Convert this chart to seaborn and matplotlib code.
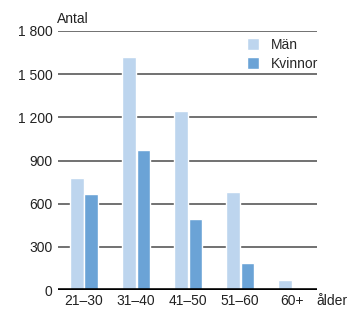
import seaborn as sns
import matplotlib.pyplot as plt
import pandas as pd

# data
aldrar = ['21–30', '31–40', '41–50', '51–60', '60+']
man = [775, 1620, 1245, 680, 72]
kvinnor = [670, 970, 490, 190, 14]
yticks = [0, 300, 600, 900, 1200, 1500, 1800]
ylabels = ['0', '300', '600', '900', '1 200', '1 500', '1 800']

df = pd.DataFrame({
    'ålder': aldrar * 2,
    'antal': man + kvinnor,
    'kön': ['Män'] * len(aldrar) + ['Kvinnor'] * len(aldrar),
})

sns.set_style('white')
plt.rcParams['font.family'] = ['Liberation Sans', 'DejaVu Sans']

fig = plt.figure(figsize=(3.48, 3.10), dpi=100)
ax = fig.add_axes([58 / 348, 20 / 310, (317 - 58) / 348, (290 - 31) / 310])

sns.barplot(data=df, x='ålder', y='antal', hue='kön', ax=ax,
            palette=['#bdd5ee', '#6ba3d6'], width=0.54, gap=0.07,
            saturation=1, zorder=3)

ax.set_ylim(0, 1800)
ax.set_xlim(-0.5, 4.48)
ax.set_yticks(yticks)
ax.set_yticklabels(ylabels)
for y in yticks[1:]:
    ax.axhline(y, color='#4a4a4a', lw=1.1, zorder=1)
ax.axhline(0, color='black', lw=2.6, zorder=4)

for s in ax.spines.values():
    s.set_visible(False)
ax.tick_params(axis='both', length=0, labelsize=10, colors='#222222')
ax.tick_params(axis='y', pad=4)
ax.tick_params(axis='x', pad=3)
ax.set_xlabel('')
ax.set_ylabel('')

fig.text(57 / 348, 1 - 19 / 310, 'Antal', fontsize=10, color='#222222',
         va='center', ha='left')
fig.text(316 / 348, 1 - 301 / 310, 'ålder', fontsize=10, color='#222222',
         va='center', ha='left')

ax.legend(loc='upper right', bbox_to_anchor=(1.025, 0.995), frameon=False,
          fontsize=10, handlelength=0.9, handleheight=0.9,
          handletextpad=0.8, labelspacing=0.35, borderaxespad=0)

fig.savefig('out.png', dpi=100)
